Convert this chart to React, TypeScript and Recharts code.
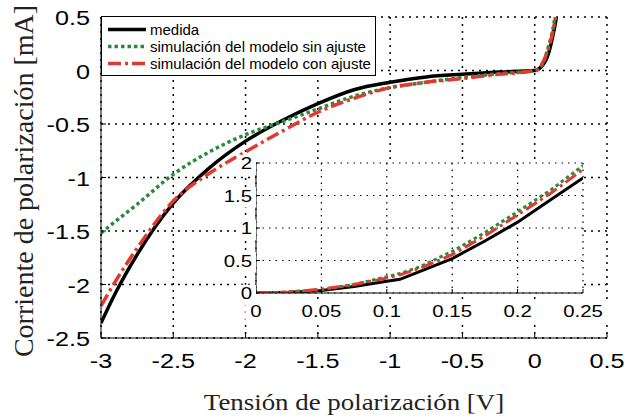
import React from 'react';
import { LineChart, Line, XAxis, YAxis, CartesianGrid, Legend, Label } from 'recharts';

// curva completa
const tension = [-3, -2.9, -2.75, -2.5, -2.25, -2, -1.75, -1.5, -1.25, -1, -0.75, -0.5, -0.25, 0, 0.05, 0.1, 0.125, 0.15, 0.2];
const medida = [-2.36, -2.08, -1.72, -1.24, -0.91, -0.66, -0.47, -0.31, -0.18, -0.11, -0.06, -0.035, -0.015, 0, 0.04, 0.18, 0.32, 0.5, 1.09];
const sinAjuste = [-1.52, -1.41, -1.25, -0.97, -0.76, -0.6, -0.48, -0.36, -0.24, -0.16, -0.11, -0.065, -0.03, 0, 0.05, 0.25, 0.38, 0.6, 1.25];
const conAjuste = [-2.2, -1.97, -1.66, -1.22, -0.96, -0.76, -0.57, -0.39, -0.26, -0.16, -0.11, -0.075, -0.035, 0, 0.06, 0.23, 0.36, 0.56, 1.2];

// detalle en directa
const tensionZoom = [0, 0.025, 0.05, 0.075, 0.1, 0.11, 0.125, 0.15, 0.175, 0.2, 0.225, 0.25];
const medidaZoom = [0, 0.01, 0.04, 0.1, 0.18, 0.21, 0.33, 0.53, 0.8, 1.09, 1.43, 1.77];
const sinAjusteZoom = [0, 0.015, 0.05, 0.13, 0.25, 0.3, 0.4, 0.64, 0.93, 1.25, 1.58, 1.96];
const conAjusteZoom = [0, 0.015, 0.06, 0.13, 0.23, 0.28, 0.38, 0.59, 0.88, 1.2, 1.53, 1.9];

const xTicks = [-3, -2.5, -2, -1.5, -1, -0.5, 0, 0.5];
const yTicks = [-2.5, -2, -1.5, -1, -0.5, 0, 0.5];
const xTicksZoom = [0, 0.05, 0.1, 0.15, 0.2, 0.25];
const yTicksZoom = [0, 0.5, 1, 1.5, 2];

const series = [
  { key: 'medida', name: 'medida', color: '#000000', dash: undefined as string | undefined },
  { key: 'sinAjuste', name: 'simulación del modelo sin ajuste', color: '#2a8b3c', dash: '3.5 3' },
  { key: 'conAjuste', name: 'simulación del modelo con ajuste', color: '#e2392e', dash: '13 4 3 4' },
];

const mainData = tension.map((v, i) => ({ v, medida: medida[i], sinAjuste: sinAjuste[i], conAjuste: conAjuste[i] }));
const zoomData = tensionZoom.map((v, i) => ({ v, medida: medidaZoom[i], sinAjuste: sinAjusteZoom[i], conAjuste: conAjusteZoom[i] }));

const sans = 'Liberation Sans, Arial, Helvetica, sans-serif';
const serif = 'Liberation Serif, Times New Roman, serif';
const STRETCH = 1.2;

const tickText = (
  anchor: 'middle' | 'end',
  size: number,
  dx: number,
  dy: number,
  bg: boolean
) => (props: any) => {
  const { x, y, payload } = props;
  const label = String(payload.value);
  const w = label.length * size * 0.556 * STRETCH;
  const h = size * 0.9;
  const rx = anchor === 'end' ? -w - 4 : -w / 2 - 5;
  const rw = anchor === 'end' ? w + 8 : w + 10;
  return (
    <g transform={`translate(${x + dx},${y + dy})`}>
      {bg && <rect x={rx} y={-h + 1} width={rw} height={h + 5} fill="#fff" />}
      <text transform={`scale(${STRETCH},1)`} textAnchor={anchor} fontSize={size} fontFamily={sans} fill="#000">
        {label}
      </text>
    </g>
  );
};

const noTick = () => <g />;

const LegendBox = () => (
  <div style={{ width: 275, height: 60, boxSizing: 'border-box', border: '1.5px solid #000', background: '#fff', paddingTop: 4 }}>
    {series.map((s) => (
      <div key={s.key} style={{ display: 'flex', alignItems: 'center', height: 17, fontFamily: sans, fontSize: 15, color: '#000' }}>
        <svg width={48} height={17} style={{ flex: 'none' }}>
          <line x1={6} x2={44} y1={8.5} y2={8.5} stroke={s.color} strokeWidth={3.5} strokeDasharray={s.dash} />
        </svg>
        <span style={{ whiteSpace: 'nowrap' }}>{s.name}</span>
      </div>
    ))}
  </div>
);

export default function App() {
  return (
    <div style={{ position: 'absolute', left: 0, top: 0, width: 626, height: 418, background: '#fff' }}>
      <div style={{ position: 'absolute', left: 0, top: 0 }}>
        <LineChart width={626} height={418} data={mainData} margin={{ top: 17, right: 19, bottom: 40, left: 41 }}>
          <CartesianGrid stroke="#000" strokeWidth={1.5} strokeDasharray="2 5" />
          <XAxis
            dataKey="v"
            type="number"
            domain={[-3, 0.5]}
            ticks={xTicks}
            allowDataOverflow
            height={40}
            stroke="#000"
            tickSize={-5}
            tickMargin={0}
            tick={tickText('middle', 21, 0, 35, false)}
          >
            <Label
              content={() => (
                <g transform="translate(354,410)">
                  <text transform="scale(1.12,1)" textAnchor="middle" fontFamily={serif} fontSize={24} fill="#222">
                    Tensión de polarización [V]
                  </text>
                </g>
              )}
            />
          </XAxis>
          <XAxis xAxisId="top" orientation="top" dataKey="v" type="number" domain={[-3, 0.5]} ticks={xTicks} allowDataOverflow height={0} stroke="#000" tickSize={-5} tick={noTick} />
          <YAxis
            type="number"
            domain={[-2.5, 0.5]}
            ticks={yTicks}
            allowDataOverflow
            width={60}
            stroke="#000"
            tickSize={-5}
            tickMargin={0}
            tick={tickText('end', 21, -16, 8, false)}
          >
            <Label
              content={() => (
                <text transform="translate(33,181) rotate(-90)" textAnchor="middle" fontFamily={serif} fontSize={28} fill="#222">
                  Corriente de polarización [mA]
                </text>
              )}
            />
          </YAxis>
          <YAxis yAxisId="right" orientation="right" type="number" domain={[-2.5, 0.5]} ticks={yTicks} allowDataOverflow width={0} stroke="#000" tickSize={-5} tick={noTick} />
          <Legend
            layout="vertical"
            align="center"
            verticalAlign="middle"
            content={() => <LegendBox />}
            wrapperStyle={{ left: 101, top: 16, width: 275, height: 60 }}
          />
          {series.map((s) => (
            <Line
              key={s.key}
              dataKey={s.key}
              name={s.name}
              type="monotone"
              stroke={s.color}
              strokeWidth={3.5}
              strokeDasharray={s.dash}
              dot={false}
              activeDot={false}
              isAnimationActive={false}
            />
          ))}
        </LineChart>
      </div>
      <div style={{ position: 'absolute', left: 0, top: 0 }}>
        <LineChart width={626} height={418} data={zoomData} margin={{ top: 163, right: 43, bottom: 95, left: 226 }}>
          <CartesianGrid stroke="#000" strokeWidth={1.2} strokeDasharray="1.5 5" fill="#fff" fillOpacity={1} />
          <XAxis
            dataKey="v"
            type="number"
            domain={[0, 0.25]}
            ticks={xTicksZoom}
            allowDataOverflow
            height={30}
            stroke="#000"
            tickSize={-4}
            tickMargin={0}
            tick={tickText('middle', 17, 0, 28, true)}
          />
          <XAxis xAxisId="top" orientation="top" dataKey="v" type="number" domain={[0, 0.25]} ticks={xTicksZoom} allowDataOverflow height={0} stroke="#000" tickSize={-4} tick={noTick} />
          <YAxis
            type="number"
            domain={[0, 2]}
            ticks={yTicksZoom}
            allowDataOverflow
            width={30}
            stroke="#000"
            tickSize={-4}
            tickMargin={0}
            tick={tickText('end', 17, -8, 6, true)}
          />
          <YAxis yAxisId="right" orientation="right" type="number" domain={[0, 2]} ticks={yTicksZoom} allowDataOverflow width={0} stroke="#000" tickSize={-4} tick={noTick} />
          {series.map((s) => (
            <Line
              key={s.key}
              dataKey={s.key}
              name={s.name}
              type="linear"
              stroke={s.color}
              strokeWidth={3}
              strokeDasharray={s.dash}
              dot={false}
              activeDot={false}
              isAnimationActive={false}
            />
          ))}
        </LineChart>
      </div>
    </div>
  );
}
